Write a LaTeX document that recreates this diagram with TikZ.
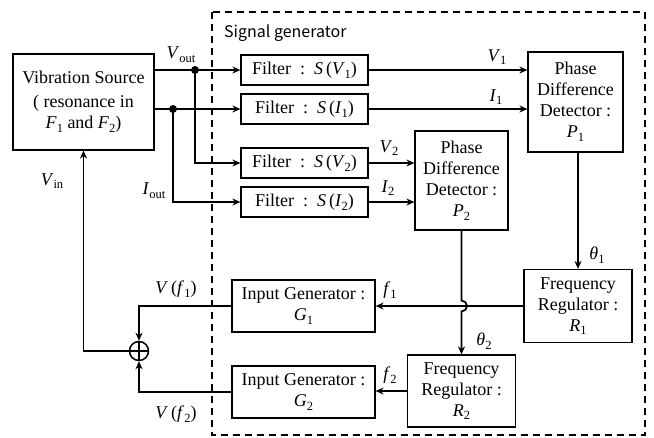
\documentclass[tikz,border=0pt]{standalone}
\usepackage{fontspec}
\setmainfont{Liberation Serif}
\newfontfamily\tmfont{Liberation Serif}
\newfontfamily\sgfont{Noto Sans CJK JP}
\usetikzlibrary{arrows.meta,calc}
\newcommand{\sbs}[1]{\raisebox{-0.45ex}{\fontsize{12.5}{12.5}\selectfont #1}}
\begin{document}
\begin{tikzpicture}[x=1pt,y=-1pt,
  every node/.style={font=\tmfont\fontsize{18}{21}\selectfont},
  blk/.style={draw,line width=1.2pt,inner sep=0pt,align=center},
  arr/.style={line width=1.8pt,-{Stealth[length=8pt,width=7pt]}},
  lbl/.style={inner sep=0pt}]
\useasboundingbox (0,0) rectangle (654,437);
% dashed region
\draw[line width=1.7pt,dash pattern=on 7pt off 5pt] (212,12) rectangle (645,435);
\node[lbl,anchor=west,font=\sgfont\fontsize{16}{18}\selectfont] (sg) at (224,33) {Signal generator};
% blocks
\node[blk,minimum width=141pt,minimum height=96pt] (VS) at (83.5,102)
  {Vibration Source\\[3pt]( resonance in\\\textit{F}\sbs{1} and \textit{F}\sbs{2})};
\node[blk,minimum width=127pt,minimum height=30pt] (F1) at (304.5,70) {Filter\ \ :\ \ \textit{S}\,(\textit{V}\sbs{1})};
\node[blk,minimum width=127pt,minimum height=30pt] (F2) at (304.5,109) {Filter\ \ :\ \ \textit{S}\,(\textit{I}\sbs{1})};
\node[blk,minimum width=127pt,minimum height=30pt] (F3) at (304.5,163) {Filter\ \ :\ \ \textit{S}\,(\textit{V}\sbs{2})};
\node[blk,minimum width=127pt,minimum height=30pt] (F4) at (304.5,202) {Filter\ \ :\ \ \textit{S}\,(\textit{I}\sbs{2})};
\node[blk,minimum width=95pt,minimum height=100pt] (P1) at (575.5,102) {Phase\\Difference\\Detector :\\\textit{P}\sbs{1}};
\node[blk,minimum width=93pt,minimum height=99pt] (P2) at (461.5,180.5) {Phase\\Difference\\Detector :\\\textit{P}\sbs{2}};
\node[blk,minimum width=108pt,minimum height=73pt] (R1) at (578,306) {Frequency\\Regulator :\\\textit{R}\sbs{1}};
\node[blk,minimum width=108pt,minimum height=72pt] (R2) at (461.5,391) {Frequency\\Regulator :\\\textit{R}\sbs{2}};
\node[blk,minimum width=143pt,minimum height=52pt] (G1) at (303.5,306) {Input Generator :\\\textit{G}\sbs{1}};
\node[blk,minimum width=143pt,minimum height=52pt] (G2) at (303.5,392) {Input Generator :\\\textit{G}\sbs{2}};
\node[circle,draw,line width=1.5pt,minimum size=19pt,inner sep=0pt] (S) at (139,351) {};
\draw[line width=1.5pt] (S.north) -- (S.south) (S.west) -- (S.east);
% junctions
\coordinate (dv) at (195,70);
\coordinate (di) at (173,109);
% connectors from source
\draw[arr] (VS.east |- F1.west) -- (F1.west);
\draw[arr] (VS.east |- F2.west) -- (F2.west);
\draw[arr] (dv) |- (F3.west);
\draw[arr] (di) |- (F4.west);
\fill (dv) circle (4pt);
\fill (di) circle (4pt);
% filters to detectors
\draw[arr] (F1.east) -- (F1.east -| P1.west);
\draw[arr] (F2.east) -- (F2.east -| P1.west);
\draw[arr] (F3.east) -- (F3.east -| P2.west);
\draw[arr] (F4.east) -- (F4.east -| P2.west);
% detectors to regulators
\draw[arr] (R1.north |- P1.south) -- (R1.north);
\draw[arr] (R1.west) -- (R1.west -| G1.east);
\draw[arr] (P2.south) -- ($(P2.south |- G1.east)+(0,-5.5)$) arc[start angle=90,end angle=-90,radius=5.5pt] -- (R2.north);
\draw[arr] (R2.west) -- (R2.west -| G2.east);
% generators to summer
\draw[arr] (G1.west) -| (S.north);
\draw[arr] (G2.west) -| (S.south);
\draw[arr] (S.west) -| (VS.south);
% labels
\node[lbl] (lvout) at (181,55) {\textit{V}\sbs{out}};
\node[lbl] (liout) at (154,191) {\textit{I}\sbs{out}};
\node[lbl] (lvin) at (52,181) {\textit{V}\sbs{in}};
\node[lbl] (lv1) at (497,57) {\textit{V}\sbs{1}};
\node[lbl] (li1) at (496,97) {\textit{I}\sbs{1}};
\node[lbl] (lv2) at (389,148) {\textit{V}\sbs{2}};
\node[lbl] (li2) at (388,188) {\textit{I}\sbs{2}};
\node[lbl] (lt1) at (597,255) {\textit{θ}\sbs{1}};
\node[lbl] (lt2) at (484,341) {\textit{θ}\sbs{2}};
\node[lbl] (lf1) at (390,290) {\textit{f}\sbs{1}};
\node[lbl] (lf2) at (390,375) {\textit{f}\sbs{2}};
\node[lbl] (lvf1) at (176,289) {\textit{V}\,(\textit{f}\sbs{1})};
\node[lbl] (lvf2) at (176,414) {\textit{V}\,(\textit{f}\sbs{2})};
\end{tikzpicture}
\end{document}
